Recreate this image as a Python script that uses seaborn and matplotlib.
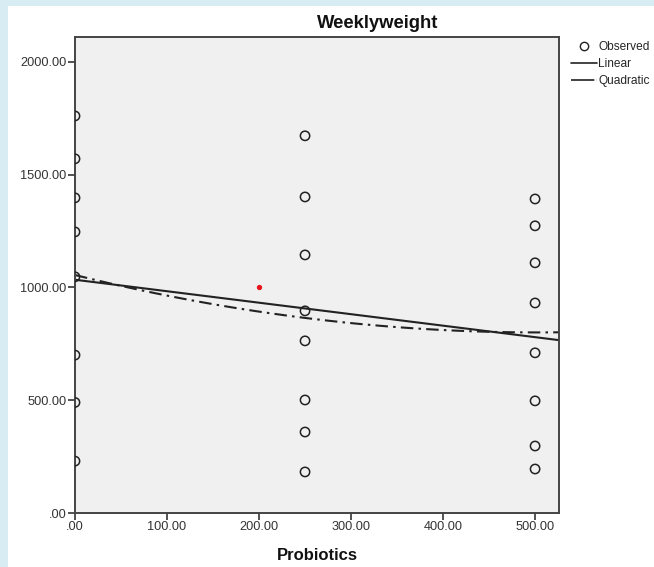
import matplotlib
matplotlib.use("Agg")
import matplotlib.pyplot as plt
import numpy as np
import pandas as pd
import seaborn as sns
from matplotlib.lines import Line2D
from matplotlib.patches import Rectangle

# Observed weekly weight at each probiotics dose
dose_0 = [1760, 1570, 1397, 1246, 1047, 700, 490, 230]
dose_250 = [1672, 1401, 1144, 896, 763, 501, 359, 182]
dose_500 = [1392, 1273, 1109, 931, 710, 497, 297, 195]
doses = [0, 250, 500]
marked_point = (200, 1000)  # stray red dot in the original

x_ticks = [0, 100, 200, 300, 400, 500]
y_ticks = [0, 500, 1000, 1500, 2000]

df = pd.DataFrame({
    "Probiotics": np.repeat(doses, 8),
    "Weeklyweight": dose_0 + dose_250 + dose_500,
})

sns.set_style("white")
plt.rcParams["font.family"] = ["Liberation Sans", "DejaVu Sans"]

fig = plt.figure(figsize=(6.54, 5.67), dpi=100)
fig.patch.set_facecolor("white")
# light blue frame strips (left and top)
fig.patches.append(Rectangle((0, 0), 8 / 654, 1, transform=fig.transFigure,
                             facecolor="#d8ecf3", edgecolor="none", zorder=0))
fig.patches.append(Rectangle((0, 1 - 6 / 567), 1, 6 / 567, transform=fig.transFigure,
                             facecolor="#d8ecf3", edgecolor="none", zorder=0))

ax = fig.add_axes([75 / 654, 54 / 567, 484 / 654, 476 / 567])
ax.set_facecolor("#f0f0f0")
ax.set_xlim(0, 526)
ax.set_ylim(0, 2110)

sns.regplot(data=df, x="Probiotics", y="Weeklyweight", order=1, ci=None,
            scatter=False, truncate=False, ax=ax,
            line_kws={"color": "#222222", "lw": 1.5})
sns.regplot(data=df, x="Probiotics", y="Weeklyweight", order=2, ci=None,
            scatter=False, truncate=False, ax=ax,
            line_kws={"color": "#222222", "lw": 1.5,
                      "linestyle": (0, (6, 2.5, 1.2, 2.5))})
sns.scatterplot(data=df, x="Probiotics", y="Weeklyweight", ax=ax, marker="o",
                s=45, facecolor="none", edgecolor="#222222", linewidth=1.1,
                zorder=3)
ax.scatter([marked_point[0]], [marked_point[1]], s=8, color="#e8141c", zorder=4)

ax.set_xticks(x_ticks)
ax.set_xticklabels([".00" if v == 0 else f"{v:.2f}" for v in x_ticks])
ax.set_yticks(y_ticks)
ax.set_yticklabels([".00" if v == 0 else f"{v:.2f}" for v in y_ticks])
ax.tick_params(axis="both", direction="out", length=5, width=1.2,
               color="#333333", labelsize=9.2, labelcolor="#333333", pad=1,
               left=True, bottom=True)
for s in ax.spines.values():
    s.set_color("#444444")
    s.set_linewidth(1.4)
ax.set_xlabel("")
ax.set_ylabel("")

fig.text(378 / 654, 1 - 23 / 567, "Weeklyweight", ha="center", va="center",
         fontsize=13.3, fontweight="bold", color="#111111")
fig.text(317 / 654, 1 - 556 / 567, "Probiotics", ha="center", va="center",
         fontsize=12, fontweight="bold", color="#111111")

handles = [
    Line2D([], [], marker="o", linestyle="none", markerfacecolor="none",
           markeredgecolor="#222222", markersize=6),
    Line2D([], [], color="#222222", lw=1.2),
    Line2D([], [], color="#222222", lw=1.2, linestyle=(0, (14, 1.5, 1, 1.5))),
]
fig.legend(handles, ["Observed", "Linear", "Quadratic"], loc="upper left",
           bbox_to_anchor=(571 / 654, 1 - 41 / 567), frameon=False,
           fontsize=8.6, handlelength=2.2, handletextpad=0.1, labelspacing=0.42,
           borderpad=0, borderaxespad=0)

fig.savefig("out.png", dpi=100)
